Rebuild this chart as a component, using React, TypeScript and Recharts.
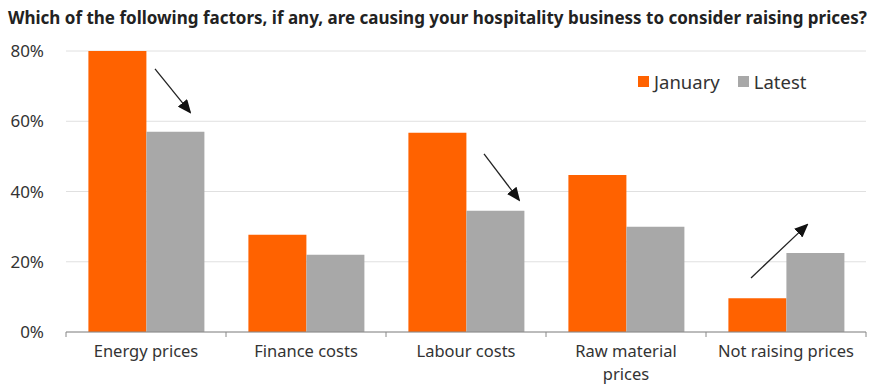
import React from "react";
import {
  BarChart,
  Bar,
  XAxis,
  YAxis,
  CartesianGrid,
  ReferenceLine,
} from "recharts";

const categories = [
  "Energy prices",
  "Finance costs",
  "Labour costs",
  "Raw material prices",
  "Not raising prices",
];
const tickLabels = [
  ["Energy prices"],
  ["Finance costs"],
  ["Labour costs"],
  ["Raw material", "prices"],
  ["Not raising prices"],
];
const january = [80, 27.7, 56.7, 44.7, 9.6];
const latest = [57, 22, 34.5, 30, 22.5];
const yTicks = [0, 20, 40, 60, 80];

// arrows: category, start value, end value, pixel offsets from band centre
const arrows = [
  { cat: "Energy prices", from: 74.9, to: 62.6, dx1: 9, dx2: 44 },
  { cat: "Labour costs", from: 50.7, to: 37.6, dx1: 18, dx2: 53 },
  { cat: "Not raising prices", from: 15.4, to: 30.5, dx1: -35, dx2: 21 },
];

const ORANGE = "#FF6200";
const GREY = "#A8A8A8";
const FONT = "'Noto Sans', sans-serif";

const data = categories.map((name, i) => ({
  name,
  January: january[i],
  Latest: latest[i],
}));

function CategoryTick(props: any) {
  const { x, y, payload, index } = props;
  const half = 80;
  const lines = tickLabels[index] || [payload.value];
  return (
    <g>
      <line x1={x - half} y1={y - 8} x2={x - half} y2={y - 3} stroke="#888" />
      {index === categories.length - 1 && (
        <line x1={x + half} y1={y - 8} x2={x + half} y2={y - 3} stroke="#888" />
      )}
      <text
        x={x}
        y={y + 17}
        textAnchor="middle"
        fill="#333"
        fontSize={16.5}
        fontFamily={FONT}
      >
        {lines.map((l: string, k: number) => (
          <tspan key={k} x={x} dy={k === 0 ? 0 : 23}>
            {l}
          </tspan>
        ))}
      </text>
    </g>
  );
}

function makeArrow(dx1: number, dx2: number) {
  return (p: any) => {
    const x1 = p.x1 + dx1;
    const x2 = p.x1 + dx2;
    return (
      <line
        x1={x1}
        y1={p.y1}
        x2={x2}
        y2={p.y2}
        stroke="#222"
        strokeWidth={1.3}
        markerEnd="url(#arrowHead)"
      />
    );
  };
}

export default function App() {
  return (
    <div
      style={{
        position: "absolute",
        left: 0,
        top: 0,
        width: 874,
        height: 387,
        background: "#fff",
      }}
    >
      <div
        style={{
          position: "absolute",
          left: 8,
          top: 6,
          fontFamily: FONT,
          fontWeight: 700,
          fontSize: 17,
          color: "#222",
          whiteSpace: "nowrap",
        }}
      >
        Which of the following factors, if any, are causing your hospitality
        business to consider raising prices?
      </div>
      <div
        style={{
          position: "absolute",
          left: 638,
          top: 69,
          display: "flex",
          alignItems: "center",
          fontFamily: FONT,
          fontSize: 18.5,
          color: "#333",
        }}
      >
        <span style={{ width: 11, height: 11, background: ORANGE, marginRight: 5 }} />
        <span style={{ marginRight: 18 }}>January</span>
        <span style={{ width: 11, height: 11, background: GREY, marginRight: 5 }} />
        <span>Latest</span>
      </div>
      <BarChart
        width={874}
        height={387}
        data={data}
        margin={{ top: 51, right: 8, bottom: 0, left: 0 }}
        barCategoryGap="14%"
        barGap={0}
      >
        <defs>
          <marker
            id="arrowHead"
            markerWidth="14"
            markerHeight="12"
            refX="12"
            refY="6"
            orient="auto"
            markerUnits="userSpaceOnUse"
          >
            <path d="M0,0 L14,6 L0,12 Z" fill="#111" />
          </marker>
        </defs>
        <CartesianGrid vertical={false} stroke="#e0e0e0" />
        <XAxis
          dataKey="name"
          height={55}
          tick={<CategoryTick />}
          tickLine={false}
          axisLine={{ stroke: "#888" }}
          interval={0}
        />
        <YAxis
          width={66}
          domain={[0, 80]}
          ticks={yTicks}
          tickFormatter={(v: number) => `${v}%`}
          axisLine={false}
          tickLine={false}
          tickMargin={16}
          tick={{ fill: "#333", fontSize: 17, fontFamily: FONT }}
        />
        <Bar dataKey="January" fill={ORANGE} isAnimationActive={false} />
        <Bar dataKey="Latest" fill={GREY} isAnimationActive={false} />
        {arrows.map((a) => (
          <ReferenceLine
            key={a.cat}
            segment={[
              { x: a.cat, y: a.from },
              { x: a.cat, y: a.to },
            ]}
            shape={makeArrow(a.dx1, a.dx2)}
          />
        ))}
      </BarChart>
    </div>
  );
}
